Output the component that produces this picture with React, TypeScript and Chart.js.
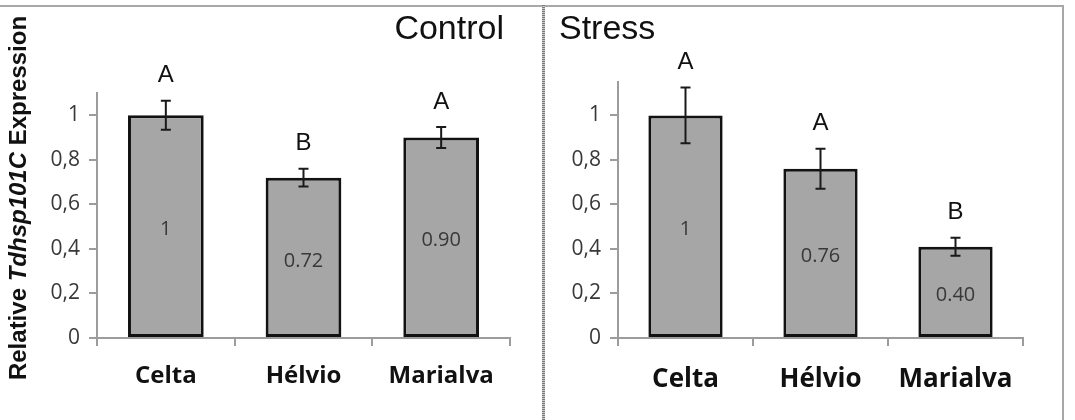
import React, { useEffect, useRef } from 'react';
import { Chart, registerables } from 'chart.js';

Chart.register(...registerables);

// ---------- data ----------
const categories = ['Celta', 'Hélvio', 'Marialva'];
const yTicks = [0, 0.2, 0.4, 0.6, 0.8, 1];

const controlValues = [1, 0.72, 0.9];
const controlErrors = [0.065, 0.04, 0.047];
const controlLabels = ['1', '0.72', '0.90'];
const controlLetters = ['A', 'B', 'A'];
const controlYMax = 1.1;

const stressValues = [1, 0.76, 0.41];
const stressErrors = [0.125, 0.09, 0.04];
const stressLabels = ['1', '0.76', '0.40'];
const stressLetters = ['A', 'A', 'B'];
const stressYMax = 1.15;

const W = 1075;
const H = 420;

const AXIS_COLOR = '#9c9c9c';

function fmtTick(v: number): string {
  if (v === 0) return '0';
  if (v === 1) return '1';
  return v.toFixed(1).replace('.', ',');
}

type PanelCfg = {
  values: number[];
  errors: number[];
  labels: string[];
  letters: string[];
  yMax: number;
  title: string;
  titleX: number;
  titleAlign: CanvasTextAlign;
  padding: { left: number; right: number; top: number; bottom: number };
  catFontSize: number;
  catPadding: number;
  drawYTitle: boolean;
};

function makePlugin(cfg: PanelCfg) {
  return {
    id: 'annot',
    afterDatasetsDraw(chart: any) {
      const ctx: CanvasRenderingContext2D = chart.ctx;
      const meta = chart.getDatasetMeta(0);
      const ys = chart.scales.y;
      ctx.save();
      meta.data.forEach((bar: any, i: number) => {
        const x = bar.x;
        const top = ys.getPixelForValue(cfg.values[i] + cfg.errors[i]);
        const bot = ys.getPixelForValue(cfg.values[i] - cfg.errors[i]);
        ctx.strokeStyle = '#1a1a1a';
        ctx.lineWidth = 2;
        ctx.beginPath();
        ctx.moveTo(x, top);
        ctx.lineTo(x, bot);
        ctx.moveTo(x - 5, top);
        ctx.lineTo(x + 5, top);
        ctx.moveTo(x - 5, bot);
        ctx.lineTo(x + 5, bot);
        ctx.stroke();

        ctx.textAlign = 'center';
        ctx.textBaseline = 'middle';
        ctx.fillStyle = '#383838';
        ctx.font = '20px "Open Sans"';
        ctx.fillText(cfg.labels[i], x, ys.getPixelForValue(cfg.values[i] / 2) + 3);

        ctx.fillStyle = '#111';
        ctx.font = '24px "Liberation Sans"';
        ctx.fillText(cfg.letters[i], x, top - 25);
      });

      // panel title
      ctx.fillStyle = '#111';
      ctx.font = '34px "Liberation Sans"';
      ctx.textAlign = cfg.titleAlign;
      ctx.textBaseline = 'middle';
      ctx.fillText(cfg.title, cfg.titleX, 30);

      if (cfg.drawYTitle) {
        const parts = [
          { t: 'Relative ', f: 'bold 24px "Liberation Sans"' },
          { t: 'Tdhsp101C', f: 'italic bold 24px "Liberation Sans"' },
          { t: ' Expression', f: 'bold 24px "Liberation Sans"' },
        ];
        let total = 0;
        const widths = parts.map((p) => {
          ctx.font = p.f;
          const w = ctx.measureText(p.t).width;
          total += w;
          return w;
        });
        ctx.translate(19, 198);
        ctx.rotate(-Math.PI / 2);
        ctx.textAlign = 'left';
        ctx.textBaseline = 'middle';
        ctx.fillStyle = '#111';
        let xx = -total / 2;
        parts.forEach((p, i) => {
          ctx.font = p.f;
          ctx.fillText(p.t, xx, 0);
          xx += widths[i];
        });
      }
      ctx.restore();
    },
  };
}

function buildConfig(cfg: PanelCfg): any {
  return {
    type: 'bar',
    data: {
      labels: categories,
      datasets: [
        {
          data: cfg.values,
          backgroundColor: '#a6a6a6',
          borderColor: '#121212',
          borderWidth: 3,
          borderSkipped: false,
          categoryPercentage: 1,
          barPercentage: 0.55,
        },
      ],
    },
    options: {
      responsive: false,
      animation: false,
      devicePixelRatio: 1,
      layout: { padding: cfg.padding },
      plugins: {
        legend: { display: false },
        tooltip: { enabled: false },
        title: { display: false },
      },
      scales: {
        x: {
          offset: true,
          grid: {
            offset: true,
            drawOnChartArea: false,
            drawTicks: true,
            tickLength: 8,
            color: AXIS_COLOR,
            lineWidth: 2,
          },
          border: { display: true, color: AXIS_COLOR, width: 2 },
          ticks: {
            padding: cfg.catPadding,
            color: '#111',
            font: { family: '"Open Sans"', weight: 'bold', size: cfg.catFontSize },
          },
          afterFit(scale: any) {
            scale.height = 60;
          },
        },
        y: {
          min: 0,
          max: cfg.yMax,
          grid: {
            drawOnChartArea: false,
            drawTicks: true,
            tickLength: 8,
            color: AXIS_COLOR,
            lineWidth: 2,
          },
          border: { display: true, color: AXIS_COLOR, width: 2 },
          ticks: {
            padding: 9,
            color: '#383838',
            font: { family: '"Open Sans"', size: 21 },
            callback: (v: any) => fmtTick(Number(v)),
          },
          afterBuildTicks(scale: any) {
            scale.ticks = yTicks.map((v) => ({ value: v }));
          },
          afterFit(scale: any) {
            scale.width = 50;
          },
        },
      },
    },
    plugins: [makePlugin(cfg)],
  };
}

const controlCfg: PanelCfg = {
  values: controlValues,
  errors: controlErrors,
  labels: controlLabels,
  letters: controlLetters,
  yMax: controlYMax,
  title: 'Control',
  titleX: 504,
  titleAlign: 'right',
  padding: { left: 47, right: W - 510, top: 93, bottom: 22 },
  catFontSize: 24,
  catPadding: 16,
  drawYTitle: true,
};

const stressCfg: PanelCfg = {
  values: stressValues,
  errors: stressErrors,
  labels: stressLabels,
  letters: stressLetters,
  yMax: stressYMax,
  title: 'Stress',
  titleX: 559,
  titleAlign: 'left',
  padding: { left: 618 - 50, right: W - 1023, top: 82, bottom: 22 },
  catFontSize: 26,
  catPadding: 18,
  drawYTitle: false,
};

function Panel({ cfg }: { cfg: PanelCfg }) {
  const ref = useRef<HTMLCanvasElement | null>(null);
  useEffect(() => {
    if (!ref.current) return;
    const chart = new Chart(ref.current, buildConfig(cfg));
    return () => chart.destroy();
  }, [cfg]);
  return (
    <canvas
      ref={ref}
      width={W}
      height={H}
      style={{ position: 'absolute', left: 0, top: 0, width: W, height: H }}
    />
  );
}

export default function App() {
  return (
    <div
      style={{
        position: 'fixed',
        left: 0,
        top: 0,
        width: W,
        height: H,
        background: '#fff',
        overflow: 'hidden',
      }}
    >
      {/* frame lines */}
      <div style={{ position: 'absolute', left: 0, top: 5, width: 1064, height: 2, background: '#a8a8a8' }} />
      <div style={{ position: 'absolute', left: 1062, top: 5, width: 2, height: H - 5, background: '#a8a8a8' }} />
      <div
        style={{
          position: 'absolute',
          left: 542,
          top: 5,
          width: 3,
          height: H - 5,
          background: 'repeating-linear-gradient(to bottom, #7a7a7a 0px, #7a7a7a 1px, #c8c8c8 1px, #c8c8c8 2px)',
        }}
      />
      <Panel cfg={controlCfg} />
      <Panel cfg={stressCfg} />
    </div>
  );
}
